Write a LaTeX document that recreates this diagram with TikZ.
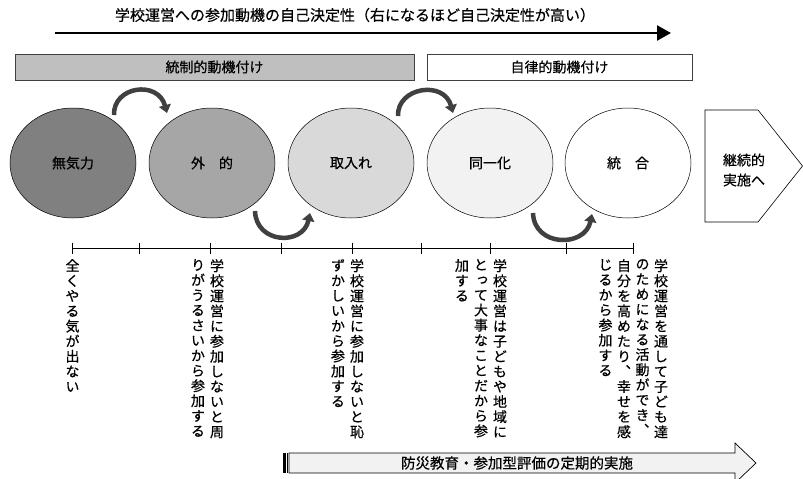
\documentclass[tikz,border=0pt]{standalone}
\usepackage{fontspec}
\setmainfont{Noto Sans CJK JP}[FakeBold=0.5]
\newfontfamily\vjp{Noto Sans CJK JP}[RawFeature=+vert,FakeBold=0.5]
\usetikzlibrary{shapes.geometric,arrows.meta}
\definecolor{cA}{HTML}{808080}
\definecolor{cB}{HTML}{A6A6A6}
\definecolor{cC}{HTML}{D9D9D9}
\definecolor{cD}{HTML}{F2F2F2}
\definecolor{cBand}{HTML}{BFBFBF}
\definecolor{cArc}{HTML}{404040}
\makeatletter
\def\vcol#1{\vbox{\vjp\fontsize{14pt}{15.1pt}\selectfont\baselineskip=15.1pt\lineskiplimit=-\maxdimen\vc@#1\@nil}}
\def\vc@#1{\ifx#1\@nil\else\hbox to 15pt{\hss#1\hss}\expandafter\vc@\fi}
\makeatother
\tikzset{
  ell/.style={ellipse, draw=black, line width=0.5pt, minimum width=126pt, minimum height=110pt, inner sep=0pt, font=\fontsize{14pt}{16pt}\selectfont},
  band/.style={draw=black!75, line width=0.8pt, minimum height=26pt, inner sep=0pt, font=\fontsize{14pt}{16pt}\selectfont},
  curv/.style={line width=4.5pt, draw=cArc, -{Triangle[width=12pt,length=8pt]}},
  vtxt/.style={anchor=north, inner sep=0pt},
  tick/.style={line width=1pt},
}
\begin{document}
\begin{tikzpicture}[x=1pt,y=-1pt]
\useasboundingbox (0,0) rectangle (803,479);
% title and top arrow
\node[font=\fontsize{15pt}{17pt}\selectfont, inner sep=0pt] (title) at (355,15) {学校運営への参加動機の自己決定性（右になるほど自己決定性が高い）};
\coordinate (ta) at (55,33);
\coordinate (tb) at (671,33);
\draw[line width=2.5pt, -{Triangle[width=15pt,length=14pt]}] (ta) -- (tb);
% bands
\node[band, fill=cBand, minimum width=399pt] (ctrl) at (214.5,67) {統制的動機付け};
\node[band, fill=white, minimum width=265pt] (auto) at (559.5,67) {自律的動機付け};
% ellipses
\node[ell, fill=cA] (e1) at (73,163) {無気力};
\node[ell, fill=cB] (e2) at (212,163) {外　的};
\node[ell, fill=cC] (e3) at (351,163) {取入れ};
\node[ell, fill=cD] (e4) at (490,163) {同一化};
\node[ell, fill=white] (e5) at (628,163) {統　合};
% curved arrows
\coordinate (a1s) at (114,115); \coordinate (a1e) at (167,113);
\draw[curv] (a1s) .. controls (113,86) and (158,80) .. (a1e);
\coordinate (a2s) at (255,211); \coordinate (a2e) at (310,213);
\draw[curv] (a2s) .. controls (256,244) and (303,246) .. (a2e);
\coordinate (a3s) at (398,116); \coordinate (a3e) at (453,113);
\draw[curv] (a3s) .. controls (397,87) and (444,80) .. (a3e);
\coordinate (a4s) at (533,213); \coordinate (a4e) at (592,214);
\draw[curv] (a4s) .. controls (534,247) and (585,248) .. (a4e);
% continuation pentagon
\draw[line width=0.6pt, fill=white] (705,110) coordinate (p1) -- (758,110) -- (802.5,166) coordinate (ptip) -- (758,222) -- (705,222) -- cycle;
\node[align=left, inner sep=0pt, font=\fontsize{14pt}{20pt}\selectfont] (cont) at (744,170) {継続的\\実施へ};
% timeline
\foreach \i/\x in {0/72,1/139,2/210,3/281,4/352,5/421,6/490,7/566,8/633} {
  \coordinate (t\i) at (\x,248);
  \draw[tick] (\x,242.5) -- (\x,254);
}
\draw[line width=1pt] (t0) -- (t8);
% vertical texts
\node[vtxt] (v1a) at (72.5,259) {\vcol{全くやる気が出ない}};
\node[vtxt] (v2a) at (217,259) {\vcol{学校運営に参加しないと周}};
\node[vtxt] (v2b) at (198,259) {\vcol{りがうるさいから参加する}};
\node[vtxt] (v3a) at (357,259) {\vcol{学校運営に参加しないと恥}};
\node[vtxt] (v3b) at (338,259) {\vcol{ずかしいから参加する}};
\node[vtxt] (v4a) at (500,259) {\vcol{学校運営は子どもや地域に}};
\node[vtxt] (v4b) at (481,259) {\vcol{とって大事なことだから参}};
\node[vtxt] (v4c) at (462,259) {\vcol{加する}};
\node[vtxt] (v5a) at (661,259) {\vcol{学校運営を通して子ども達}};
\node[vtxt] (v5b) at (642.5,259) {\vcol{のためになる活動ができ、}};
\node[vtxt] (v5c) at (624,259) {\vcol{自分を高めたり、幸せを感}};
\node[vtxt] (v5d) at (605.5,259) {\vcol{じるから参加する}};
% bottom striped arrow
\fill (283,453) rectangle (285.5,473);
\fill (287,453) rectangle (288.3,473);
\draw[line width=0.7pt, fill=cD] (289,453) -- (735,453) -- (735,443) -- (756,463) coordinate (btip) -- (735,483) -- (735,473) -- (289,473) -- cycle;
\node[inner sep=0pt, font=\fontsize{14.5pt}{16pt}\selectfont] (bt) at (517,463) {防災教育・参加型評価の定期的実施};
\end{tikzpicture}
\end{document}
